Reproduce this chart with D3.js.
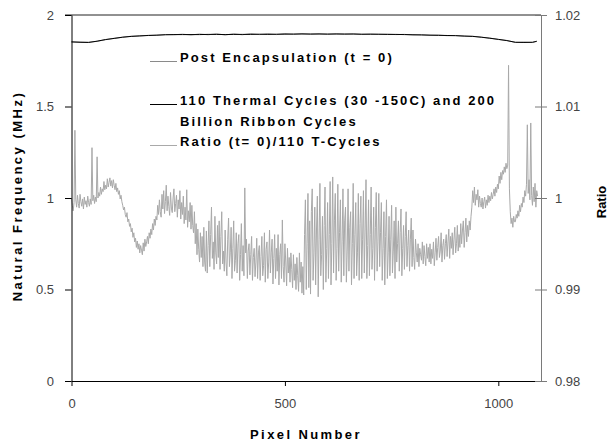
<!DOCTYPE html>
<html><head><meta charset="utf-8">
<script src="https://cdn.jsdelivr.net/npm/d3@7"></script>
<style>
body{margin:0;background:#fff}
svg{display:block}
text{font-family:"Liberation Sans",Arial,Helvetica,sans-serif}
</style>
</head><body>
<svg id="c" width="608" height="443"></svg>
<script>
// ---------- data ----------
const xTicks = [0, 500, 1000];
const freqTicks = [0, 0.5, 1, 1.5, 2];
const ratioTicks = [0.98, 0.99, 1, 1.01, 1.02];
const freqTickLabels = ["0", "0.5", "1", "1.5", "2"];
const ratioTickLabels = ["0.98", "0.99", "1", "1.01", "1.02"];
const legendNames = ["Post Encapsulation (t = 0)", "110 Thermal Cycles (30 -150C) and 200", "Billion Ribbon Cycles", "Ratio (t= 0)/110 T-Cycles"];

const freqPixels = [0,20,40,60,80,100,120,140,160,180,200,220,240,260,280,300,320,340,360,380,400,420,440,460,480,500,520,540,560,580,600,620,640,660,680,700,720,740,760,780,800,820,840,860,880,900,920,940,960,980,1000,1020,1040,1060,1080,1090];
const postEncap = [1.853,1.852,1.851,1.856,1.865,1.873,1.878,1.884,1.885,1.889,1.889,1.893,1.892,1.895,1.891,1.896,1.892,1.897,1.891,1.897,1.892,1.898,1.893,1.898,1.893,1.899,1.894,1.899,1.895,1.898,1.894,1.898,1.895,1.897,1.894,1.896,1.894,1.895,1.893,1.894,1.891,1.892,1.889,1.890,1.887,1.888,1.884,1.884,1.878,1.874,1.866,1.861,1.850,1.852,1.850,1.857];
const thermal110 = [1.853,1.851,1.850,1.857,1.866,1.872,1.879,1.883,1.886,1.888,1.890,1.892,1.893,1.893,1.893,1.893,1.894,1.894,1.893,1.894,1.894,1.894,1.895,1.894,1.895,1.895,1.896,1.896,1.896,1.896,1.896,1.896,1.896,1.896,1.895,1.895,1.895,1.894,1.894,1.893,1.892,1.891,1.890,1.889,1.888,1.887,1.885,1.883,1.879,1.873,1.867,1.860,1.851,1.850,1.851,1.856];

// ratio sampled every 2 pixels starting at pixel 0
const ratioStart = 0, ratioStep = 2;
const ratio = [
1.0000,0.9992,0.9986,0.9995,1.0074,0.9998,0.9990,1.0003,0.9994,0.9989,1.0004,0.9996,0.9991,0.9999,0.9988,1.0001,0.9993,0.9997,0.9990,1.0002,
0.9995,0.9991,0.9999,0.9993,1.0055,0.9997,1.0003,0.9994,1.0001,0.9996,1.0045,1.0000,1.0006,1.0002,1.0012,1.0004,1.0010,1.0007,1.0018,1.0009,
1.0014,1.0010,1.0021,1.0012,1.0017,1.0022,1.0013,1.0019,1.0011,1.0020,1.0014,1.0009,1.0016,1.0007,1.0011,1.0004,1.0008,0.9999,1.0003,0.9996,
0.9992,0.9987,0.9990,0.9982,0.9979,0.9984,0.9974,0.9977,0.9969,0.9972,0.9963,0.9967,0.9957,0.9962,0.9952,0.9956,0.9946,0.9953,0.9944,0.9950,
0.9940,0.9948,0.9943,0.9938,0.9951,0.9942,0.9955,0.9947,0.9952,0.9958,0.9950,0.9962,0.9956,0.9966,0.9960,0.9972,0.9965,0.9977,0.9970,0.9980,
0.9976,0.9992,0.9982,0.9998,0.9985,0.9979,1.0004,0.9988,1.0008,0.9983,0.9996,1.0014,0.9986,1.0002,0.9991,0.9981,1.0006,0.9989,0.9984,1.0000,
1.0010,0.9985,0.9994,1.0003,0.9979,0.9998,0.9988,1.0008,0.9977,0.9995,0.9982,1.0002,0.9972,0.9990,0.9976,1.0009,0.9968,0.9986,0.9974,0.9995,
0.9966,0.9992,0.9970,0.9962,0.9985,0.9950,0.9972,0.9938,0.9966,0.9944,0.9930,0.9962,0.9935,0.9958,0.9925,0.9968,0.9930,0.9920,0.9964,0.9918,
0.9948,0.9975,0.9925,0.9960,0.9990,0.9934,0.9952,0.9922,0.9980,0.9940,0.9928,0.9970,0.9935,0.9975,0.9922,0.9958,0.9985,0.9928,0.9942,0.9920,
0.9965,0.9930,0.9915,0.9955,0.9978,0.9925,0.9940,0.9968,0.9912,0.9945,0.9975,0.9920,0.9932,0.9962,0.9918,0.9950,0.9960,0.9910,0.9938,0.9972,
0.9920,0.9948,0.9915,1.0011,0.9940,0.9955,0.9912,0.9942,0.9950,0.9916,0.9938,0.9958,0.9910,0.9935,0.9945,0.9914,0.9930,0.9956,0.9912,0.9940,
0.9948,0.9910,0.9936,0.9958,0.9915,0.9926,0.9962,0.9908,0.9944,0.9952,0.9912,0.9930,0.9965,0.9918,0.9940,0.9955,0.9906,0.9934,0.9960,0.9912,
0.9945,0.9920,0.9960,0.9905,0.9938,0.9950,0.9912,0.9976,0.9925,0.9908,0.9950,0.9930,0.9904,0.9945,0.9918,0.9935,0.9908,0.9940,0.9922,0.9902,
0.9938,0.9910,0.9928,0.9900,0.9935,0.9915,0.9898,0.9940,0.9908,0.9930,0.9896,0.9925,0.9894,0.9960,0.9998,0.9900,0.9950,1.0005,0.9902,0.9975,
0.9895,0.9985,1.0010,0.9910,0.9940,0.9990,0.9905,0.9965,1.0002,0.9892,0.9955,1.0016,0.9915,0.9938,0.9980,0.9900,0.9970,1.0012,0.9908,0.9945,
0.9995,0.9912,0.9960,1.0018,0.9905,0.9950,1.0023,0.9918,0.9975,1.0005,0.9910,0.9945,1.0015,0.9920,0.9962,0.9998,0.9908,0.9952,1.0010,0.9915,
0.9975,0.9990,0.9908,0.9942,1.0010,0.9920,0.9968,0.9985,0.9905,0.9950,1.0016,0.9912,0.9960,0.9995,0.9915,0.9940,1.0005,0.9910,0.9972,1.0002,
0.9912,0.9955,1.0008,0.9918,0.9965,1.0020,0.9912,0.9948,0.9998,0.9915,0.9960,1.0012,0.9922,0.9945,0.9990,0.9910,0.9968,1.0006,0.9920,0.9952,
1.0005,0.9925,0.9962,0.9995,0.9910,0.9945,0.9985,0.9905,0.9958,0.9998,0.9912,0.9940,0.9980,0.9915,0.9955,0.9992,0.9918,0.9942,0.9975,0.9912,
0.9990,0.9930,0.9950,0.9975,0.9920,0.9962,0.9988,0.9915,0.9945,0.9970,0.9922,0.9958,0.9985,0.9925,0.9948,0.9965,0.9920,0.9955,0.9978,0.9925,
0.9965,0.9935,0.9922,0.9955,0.9940,0.9930,0.9950,0.9925,0.9945,0.9938,0.9932,0.9952,0.9928,0.9948,0.9936,0.9926,0.9950,0.9934,0.9946,0.9930,
0.9950,0.9928,0.9944,0.9934,0.9952,0.9926,0.9940,0.9956,0.9932,0.9946,0.9958,0.9935,0.9942,0.9962,0.9930,0.9948,0.9955,0.9933,0.9950,0.9960,
0.9936,0.9952,0.9966,0.9934,0.9958,0.9945,0.9962,0.9938,0.9955,0.9968,0.9940,0.9950,0.9970,0.9942,0.9960,0.9946,0.9972,0.9950,0.9965,0.9975,
0.9946,0.9962,0.9978,0.9952,0.9970,0.9958,0.9975,0.9965,0.9980,0.9990,1.0008,0.9995,1.0012,0.9992,1.0004,0.9998,1.0009,0.9990,1.0002,0.9994,
0.9990,1.0000,0.9988,0.9996,1.0001,0.9989,0.9998,0.9992,1.0003,0.9995,1.0002,0.9997,1.0006,0.9999,1.0004,1.0010,1.0002,1.0012,1.0006,1.0015,
1.0010,1.0024,1.0016,1.0028,1.0020,1.0030,1.0026,1.0034,1.0028,1.0038,1.0032,1.0036,1.0145,1.0010,0.9985,0.9972,0.9978,0.9968,0.9980,0.9974,
0.9974,0.9982,0.9978,0.9986,0.9980,0.9992,0.9985,0.9994,0.9990,1.0001,0.9995,1.0008,1.0002,1.0015,1.0080,1.0005,1.0020,0.9998,1.0082,1.0003,
0.9992,1.0012,0.9996,1.0016,0.9990,1.0008,1.0002
];

// ---------- chart ----------
const svg = d3.select("#c");
const L = 71.5, R = 541, T = 15, B = 381;
const x = d3.scaleLinear().domain([0, 1100]).range([L, R]);
const yF = d3.scaleLinear().domain([0, 2]).range([B, T]);
const yR = d3.scaleLinear().domain([0.98, 1.02]).range([B, T]);

// ratio series
const lineR = d3.line().x((d, i) => x(ratioStart + i * ratioStep)).y(d => yR(d));
svg.append("path").datum(ratio).attr("d", lineR)
  .attr("fill", "none").attr("stroke", "#a9a9a9").attr("stroke-width", 1);

// frequency series
const lineF = d3.line().x((d, i) => x(freqPixels[i])).y(d => yF(d));
svg.append("path").datum(postEncap).attr("d", lineF)
  .attr("fill", "none").attr("stroke", "#8a8a8a").attr("stroke-width", 1);
svg.append("path").datum(thermal110).attr("d", lineF)
  .attr("fill", "none").attr("stroke", "#000").attr("stroke-width", 1);

// top frame line
svg.append("line").attr("x1", 65).attr("x2", R).attr("y1", T).attr("y2", T)
  .attr("stroke", "#222").attr("stroke-width", 1);

// left axis
const gL = svg.append("g").attr("transform", `translate(${L},0)`)
  .call(d3.axisLeft(yF).tickValues(freqTicks).tickFormat((d, i) => freqTickLabels[i])
    .tickSizeOuter(0).tickSizeInner(6.5).tickPadding(11));
gL.select(".domain").attr("stroke", "#000");
gL.selectAll(".tick line").attr("stroke", "#000");
gL.selectAll(".tick text").attr("fill", "#444").style("font-size", "13px")
  .style("font-family", '"Liberation Sans",Arial,sans-serif');

// bottom axis
const gB = svg.append("g").attr("transform", `translate(0,${B})`)
  .call(d3.axisBottom(x).tickValues(xTicks).tickFormat(d3.format("d"))
    .tickSizeOuter(0).tickSizeInner(5).tickPadding(13));
gB.select(".domain").attr("stroke", "#000");
gB.selectAll(".tick line").attr("stroke", "#000");
gB.selectAll(".tick text").attr("fill", "#444").style("font-size", "13px")
  .style("font-family", '"Liberation Sans",Arial,sans-serif');

// right axis
const gR = svg.append("g").attr("transform", `translate(${R},0)`)
  .call(d3.axisRight(yR).tickValues(ratioTicks).tickFormat((d, i) => ratioTickLabels[i])
    .tickSizeOuter(0).tickSizeInner(6).tickPadding(8));
gR.select(".domain").attr("stroke", "#7a7a7a");
gR.selectAll(".tick line").attr("stroke", "#7a7a7a").attr("x1", -6);
gR.selectAll(".tick text").attr("fill", "#444").style("font-size", "13px")
  .style("font-family", '"Liberation Sans",Arial,sans-serif');

// axis titles
svg.append("text").attr("transform", "translate(22,196) rotate(-90)")
  .attr("text-anchor", "middle").style("font-size", "13px").style("font-weight", "bold")
  .style("letter-spacing", "2.5px").text("Natural Frequency (MHz)");
svg.append("text").attr("transform", "translate(606,202) rotate(-90)")
  .attr("text-anchor", "middle").style("font-size", "13px").style("font-weight", "bold")
  .text("Ratio");
svg.append("text").attr("x", 306).attr("y", 439)
  .attr("text-anchor", "middle").style("font-size", "13px").style("font-weight", "bold")
  .style("letter-spacing", "2.4px").text("Pixel Number");

// legend
const legendRows = [
  {name: legendNames[0], y: 62, color: "#8a8a8a", line: true},
  {name: legendNames[1], y: 105, color: "#000", line: true},
  {name: legendNames[2], y: 126, color: null, line: false},
  {name: legendNames[3], y: 146, color: "#a9a9a9", line: true}
];
const lg = svg.append("g");
legendRows.forEach(r => {
  if (r.line) lg.append("line").attr("x1", 150).attr("x2", 177)
    .attr("y1", r.y - 0.5).attr("y2", r.y - 0.5).attr("stroke", r.color).attr("stroke-width", 1);
  lg.append("text").attr("x", 180).attr("y", r.y)
    .style("font-size", "13px").style("font-weight", "bold").style("letter-spacing", "2.1px")
    .attr("fill", "#000").text(r.name);
});
</script>
</body></html>
